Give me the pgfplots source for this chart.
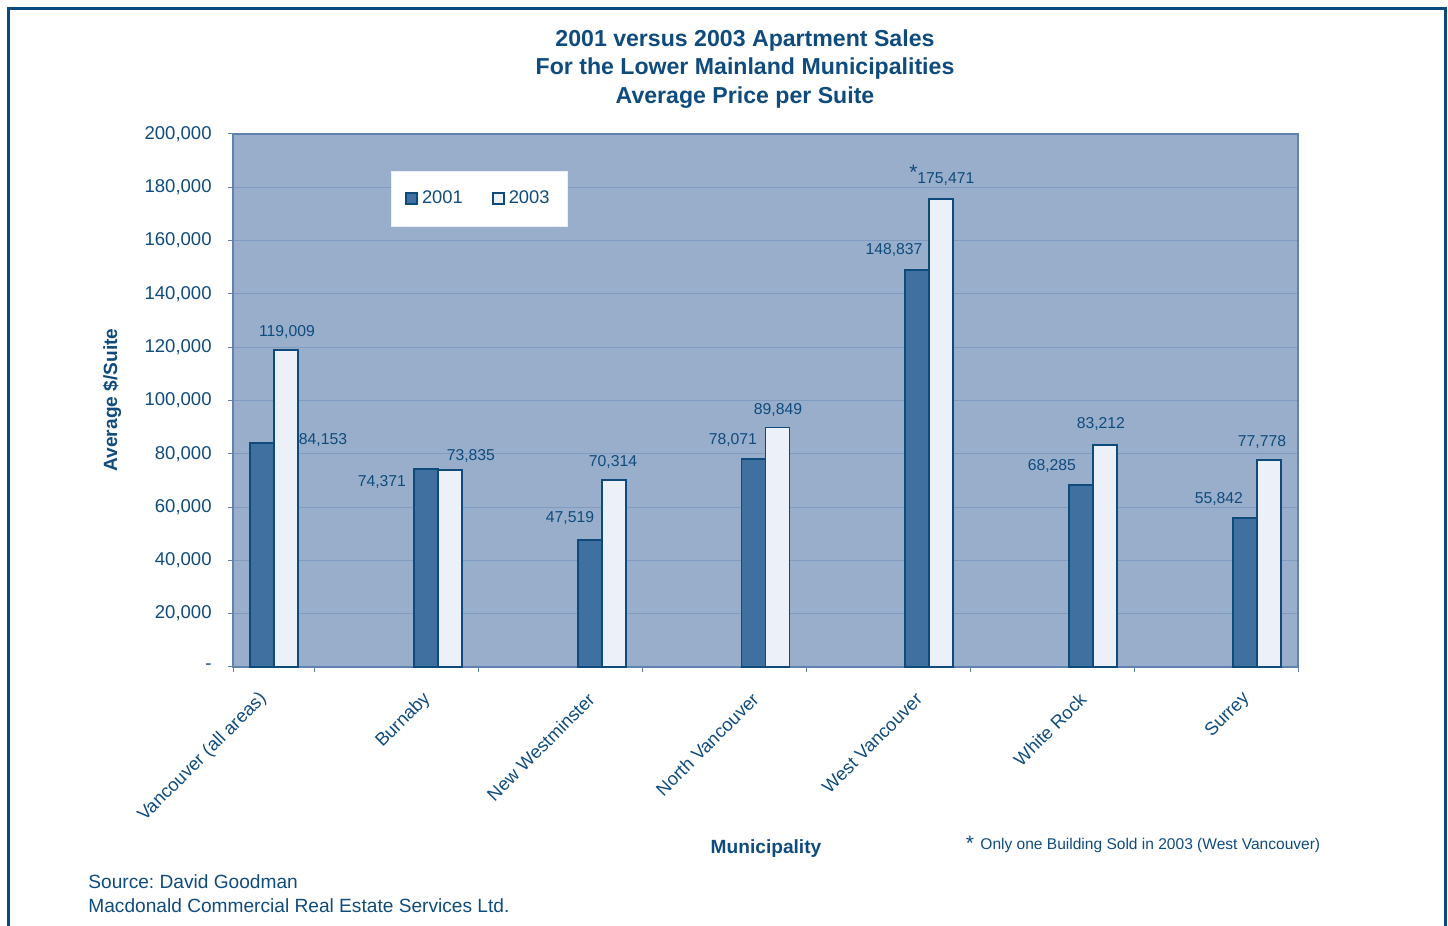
\documentclass[border=0pt]{standalone}
\usepackage{pgfplots}
\pgfplotsset{compat=1.18}
\usepackage{fontspec}
\setmainfont{Liberation Sans}
\frenchspacing
\definecolor{txt}{RGB}{15,75,125}
\definecolor{bg}{RGB}{152,174,203}
\definecolor{darkbar}{RGB}{64,112,160}
\definecolor{lightbar}{RGB}{236,240,248}
\definecolor{edge}{RGB}{14,74,124}
\definecolor{gridc}{RGB}{128,155,192}
\definecolor{axc}{RGB}{95,130,176}
\definecolor{framec}{RGB}{11,74,126}
\begin{document}
\begin{tikzpicture}
\path[use as bounding box] (0,0) rectangle (724bp,463bp);
\draw[framec, line width=1.5bp] (4bp,0) -- (4bp,458.5bp) -- (722.5bp,458.5bp) -- (722.5bp,0);
\node[align=center, text=txt, font=\bfseries\fontsize{11.6}{14.5}\selectfont] at (372.5bp,428.5bp)
  {2001 versus 2003 Apartment Sales\\For the Lower Mainland Municipalities\\Average Price per Suite};
\begin{axis}[
  at={(116.5bp,129.5bp)}, anchor=south west,
  scale only axis, width=532.5bp, height=266.5bp,
  xmin=-0.25, xmax=6.25, ymin=0, ymax=200000,
  axis background/.style={fill=bg},
  axis line style={axc, line width=0.75bp},
  ybar=0pt, bar width=12bp,
  scaled y ticks=false,
  ytick={0,20000,...,200000},
  yticklabels={-,{20,000},{40,000},{60,000},{80,000},{100,000},{120,000},{140,000},{160,000},{180,000},{200,000}},
  xtick={0,...,6},
  xticklabels={Vancouver (all areas),Burnaby,New Westminster,North Vancouver,West Vancouver,White Rock,Surrey},
  minor xtick={-0.25,0.25,1.25,2.25,3.25,4.25,5.25,6.25},
  xtick pos=bottom, ytick pos=left,
  major x tick style={draw=none},
  minor x tick style={draw=axc, line width=0.5bp},
  y tick style={draw=axc, line width=0.5bp},
  tick align=outside, major tick length=2.5bp, minor tick length=2.5bp,
  ymajorgrids, grid style={gridc, line width=0.5bp},
  yticklabel style={text=txt, font=\fontsize{9.3}{11}\selectfont, anchor=east, inner sep=0pt, xshift=-8bp},
  xticklabel style={text=txt, font=\fontsize{9.2}{11}\selectfont, inner sep=0pt, xshift=-5bp, yshift=-12bp, rotate=45, anchor=east},
  legend style={at={(0.148,0.931)}, anchor=north west, legend columns=2, fill=white, draw=white!80!bg,
    font=\fontsize{9.2}{11}\selectfont, text=txt, inner xsep=7bp, inner ysep=7.75bp,
    /tikz/every even column/.append style={column sep=12.5bp}},
  legend image code/.code={\draw[#1,/tikz/.cd,line width=0.9bp] (0bp,-2.8bp) rectangle (5.6bp,2.8bp);},
  clip=false,
]
\addplot[fill=darkbar, draw=edge, line width=0.9bp] coordinates {(0,84153) (1,74371) (2,47519) (3,78071) (4,148837) (5,68285) (6,55842)};
\addplot[fill=lightbar, draw=edge, line width=0.9bp] coordinates {(0,119009) (1,73835) (2,70314) (3,89849) (4,175471) (5,83212) (6,77778)};
\legend{2001,2003}
\begin{scope}[every node/.style={text=txt, font=\fontsize{7.9}{9}\selectfont, inner sep=0pt}]
\node at (axis cs:0.079,125704) {119,009};
\node at (axis cs:0.299,85178) {84,153};
\node at (axis cs:0.659,69418) {74,371};
\node at (axis cs:1.202,79174) {73,835};
\node at (axis cs:1.807,55910) {47,519};
\node at (axis cs:2.069,76923) {70,314};
\node at (axis cs:2.801,85178) {78,071};
\node at (axis cs:3.076,96435) {89,849};
\node at (axis cs:3.784,156473) {148,837};
\node at (axis cs:4.101,183114) {175,471};
\node[font=\fontsize{10.5}{12}\selectfont] at (axis cs:3.903,185500) {*};
\node at (axis cs:4.748,75422) {68,285};
\node at (axis cs:5.047,91182) {83,212};
\node at (axis cs:5.767,63039) {55,842};
\node at (axis cs:6.030,84428) {77,778};
\end{scope}
\end{axis}
\node[rotate=90, text=txt, font=\bfseries\fontsize{9.6}{11}\selectfont] at (56bp,263bp) {Average \$/Suite};
\node[text=txt, font=\bfseries\fontsize{9.6}{11}\selectfont] at (383bp,38.5bp) {Municipality};
\node[text=txt, font=\fontsize{10.5}{12}\selectfont] at (485bp,41.5bp) {*};
\node[anchor=west, text=txt, font=\fontsize{7.8}{9}\selectfont, inner sep=0pt] at (490bp,40.5bp) {Only one Building Sold in 2003 (West Vancouver)};
\node[anchor=west, align=left, text=txt, font=\fontsize{9.6}{12}\selectfont, inner sep=0pt] at (44bp,16bp) {Source: David Goodman\\Macdonald Commercial Real Estate Services Ltd.};
\end{tikzpicture}
\end{document}
